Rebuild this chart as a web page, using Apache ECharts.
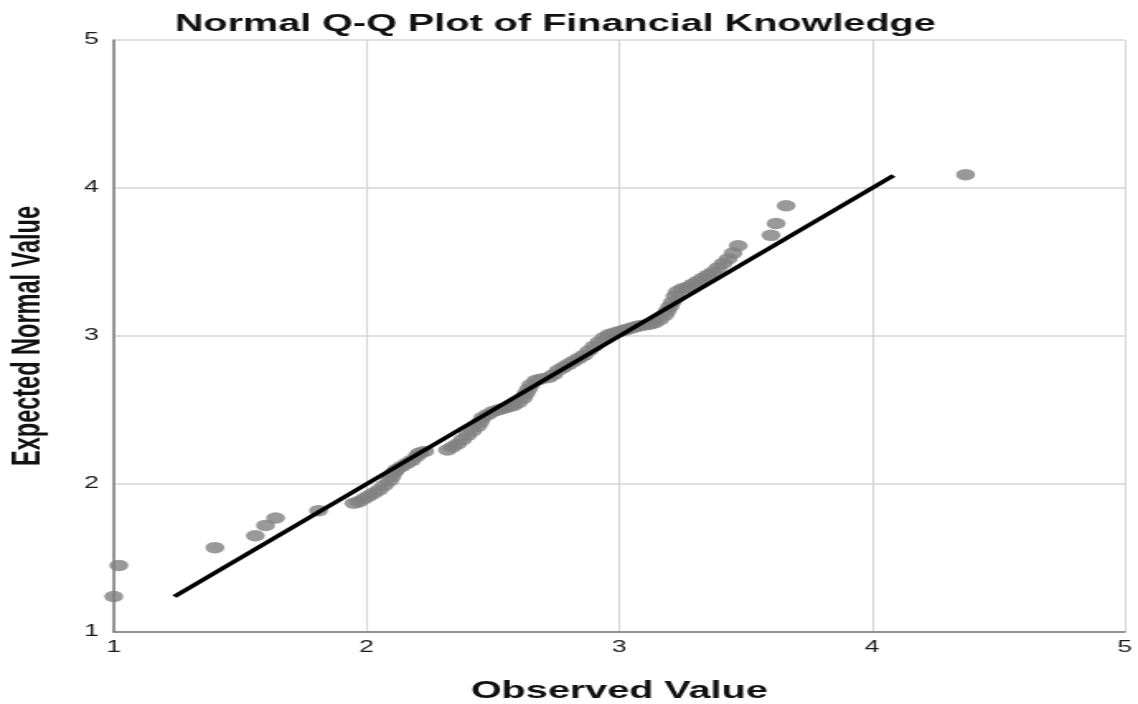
<!DOCTYPE html>
<html>
<head>
<meta charset="utf-8">
<title>Normal Q-Q Plot of Financial Knowledge</title>
<script src="https://cdn.jsdelivr.net/npm/echarts@6/dist/echarts.min.js"></script>
<style>
  html, body { margin: 0; padding: 0; background: #fff; overflow: hidden; }
  /* the source picture is stretched sideways, so draw narrow and stretch */
  #chart { width: 690px; height: 704px; transform: scaleX(1.6493); transform-origin: 0 0; }
</style>
</head>
<body>
<div id="chart"></div>
<script>
var observed = [
  1.00, 1.02, 1.40, 1.56, 1.60, 1.64, 1.81, 1.95, 1.97, 1.99,
  2.01, 2.03, 2.05, 2.07, 2.09, 2.10, 2.11, 2.12, 2.14, 2.16,
  2.18, 2.20, 2.21, 2.23, 2.32, 2.34, 2.36, 2.38, 2.40, 2.42,
  2.44, 2.45, 2.46, 2.48, 2.50, 2.52, 2.54, 2.56, 2.58, 2.60,
  2.62, 2.63, 2.64, 2.65, 2.67, 2.69, 2.72, 2.74, 2.76, 2.78,
  2.80, 2.82, 2.84, 2.86, 2.88, 2.90, 2.92, 2.94, 2.96, 2.98,
  3.00, 3.02, 3.04, 3.06, 3.08, 3.10, 3.12, 3.14, 3.16, 3.18,
  3.19, 3.20, 3.21, 3.22, 3.23, 3.25, 3.27, 3.29, 3.31, 3.33,
  3.35, 3.37, 3.39, 3.41, 3.43, 3.45, 3.47, 3.60, 3.62, 3.66,
  4.37
]
var expected = [
  1.24, 1.45, 1.57, 1.65, 1.72, 1.77, 1.82, 1.87, 1.88, 1.90,
  1.92, 1.94, 1.96, 1.99, 2.02, 2.05, 2.08, 2.10, 2.12, 2.14,
  2.16, 2.19, 2.21, 2.22, 2.23, 2.25, 2.27, 2.30, 2.33, 2.36,
  2.39, 2.42, 2.45, 2.47, 2.49, 2.50, 2.51, 2.52, 2.53, 2.55,
  2.58, 2.61, 2.64, 2.67, 2.70, 2.71, 2.72, 2.74, 2.77, 2.79,
  2.81, 2.83, 2.85, 2.87, 2.90, 2.93, 2.96, 2.99, 3.01, 3.02,
  3.03, 3.04, 3.05, 3.06, 3.07, 3.075, 3.08, 3.09, 3.11, 3.14,
  3.17, 3.20, 3.23, 3.27, 3.30, 3.32, 3.33, 3.35, 3.37, 3.39,
  3.41, 3.43, 3.46, 3.49, 3.52, 3.56, 3.61, 3.68, 3.76, 3.88,
  4.09
]
// reference line y = x, from lowest to highest expected value
var refLine = [1.24, 4.085]
var axisTicks = [1, 2, 3, 4, 5]

var font = "'Liberation Sans', Arial, sans-serif"
var gridColor = '#d4d4d4'
var axisColor = '#7a7a7a'

var points = []
observed.forEach(function (x, i) {
  points.push([x, expected[i]])
})

var chart = echarts.init(document.getElementById('chart'))
var option = {
  backgroundColor: '#fff',
  animation: false,
  title: {
    text: 'Normal Q-Q Plot of Financial Knowledge',
    left: 101,
    top: 7,
    textStyle: {
      fontFamily: font,
      fontSize: 24,
      fontWeight: 'bold',
      color: '#111'
    }
  },
  grid: {
    left: 69,
    right: 8,
    top: 40,
    bottom: 72,
    outerBoundsMode: 'none'
  },
  xAxis: {
    type: 'value',
    min: axisTicks[0],
    max: axisTicks[axisTicks.length - 1],
    interval: 1,
    name: 'Observed Value',
    nameLocation: 'middle',
    nameGap: 47,
    nameTextStyle: {
      fontFamily: font,
      fontSize: 24,
      fontWeight: 'bold',
      color: '#111'
    },
    axisLine: { show: true, lineStyle: { color: axisColor, width: 1.5 } },
    axisTick: { show: false },
    axisLabel: { fontFamily: font, fontSize: 16, color: '#1a1a1a', margin: 8 },
    splitLine: { show: true, lineStyle: { color: gridColor, width: 1 } }
  },
  yAxis: {
    type: 'value',
    min: axisTicks[0],
    max: axisTicks[axisTicks.length - 1],
    interval: 1,
    name: 'Expected Normal Value',
    nameLocation: 'middle',
    nameGap: 39,
    nameTextStyle: {
      fontFamily: font,
      fontSize: 23.5,
      fontWeight: 'bold',
      color: '#111'
    },
    axisLine: { show: true, lineStyle: { color: axisColor, width: 1.5 } },
    axisTick: { show: false },
    axisLabel: { fontFamily: font, fontSize: 16, color: '#1a1a1a', margin: 9 },
    splitLine: { show: true, lineStyle: { color: gridColor, width: 1.5 } }
  },
  series: [
    {
      type: 'scatter',
      symbol: 'circle',
      symbolSize: 11.5,
      itemStyle: { color: '#7f7f7f' },
      z: 2,
      data: points
    },
    {
      type: 'line',
      showSymbol: false,
      symbol: 'none',
      lineStyle: { color: '#000', width: 3.6 },
      z: 3,
      data: [[refLine[0], refLine[0]], [refLine[1], refLine[1]]]
    }
  ]
}
chart.setOption(option)
</script>
</body>
</html>
